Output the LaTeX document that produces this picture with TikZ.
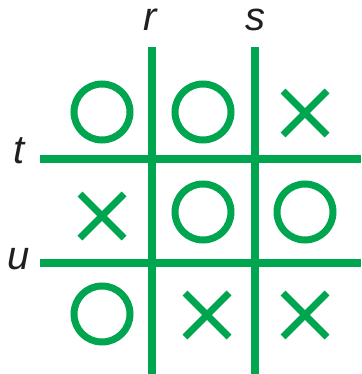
\documentclass[tikz,border=0pt]{standalone}
\usepackage{fontspec}
\setsansfont{Liberation Sans}
\definecolor{grid}{RGB}{0,165,80}
\definecolor{lab}{gray}{0.12}

\begin{document}
\begin{tikzpicture}[x=1pt,y=-1pt]
  \useasboundingbox (0,0) rectangle (361,374);
  \draw[grid,line width=8.5pt] (152,47) -- (152,374);
  \draw[grid,line width=8.5pt] (255,47) -- (255,374);
  \draw[grid,line width=8.5pt] (40,159) -- (361,159);
  \draw[grid,line width=8.5pt] (40,263) -- (361,263);
  \node[font=\fontsize{40}{40}\sffamily\itshape,color=lab] (r) at (150,20) {r};
  \node[font=\fontsize{40}{40}\sffamily\itshape,color=lab] (s) at (255,20) {s};
  \node[font=\fontsize{40}{40}\sffamily\itshape,color=lab] (t) at (19,151) {t};
  \node[font=\fontsize{40}{40}\sffamily\itshape,color=lab] (u) at (19,259) {u};
  \foreach \x/\y in {102/112, 203/112, 203/212, 305/212, 102/314}
    {\draw[grid,line width=7pt] (\x,\y) circle (28pt);}
  \foreach \x/\y in {305/113, 102/216, 207/315, 305/315}
    {\draw[grid,line width=7pt] (\x-22,\y-22) -- (\x+22,\y+22) (\x-22,\y+22) -- (\x+22,\y-22);}
\end{tikzpicture}
\end{document}
